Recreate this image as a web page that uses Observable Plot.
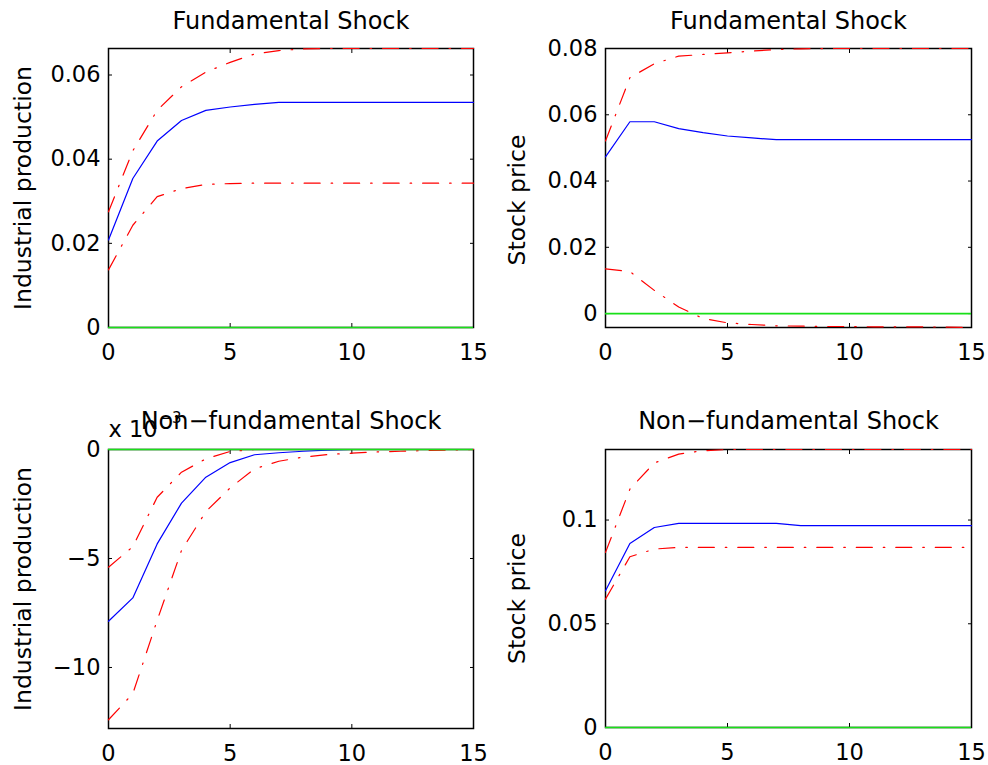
<!DOCTYPE html>
<html>
<head>
<meta charset="utf-8">
<script src="https://cdn.jsdelivr.net/npm/d3@7"></script>
<script src="https://cdn.jsdelivr.net/npm/@observablehq/plot@0.6"></script>
<style>
  html, body { margin: 0; padding: 0; background: #ffffff; }
  #figure { position: relative; width: 988px; height: 765px; background: #ffffff; overflow: hidden; }
  .panel { position: absolute; }
</style>
</head>
<body>
<div id="figure"></div>
<script>
// Impulse-response horizon (periods after the shock)
const steps = [0, 1, 2, 3, 4, 5, 6, 7, 8, 9, 10, 11, 12, 13, 14, 15];
const xTicks = [0, 5, 10, 15];

// Industrial production, fundamental shock: response and error bands
const ipFundResp  = [0.0208, 0.0354, 0.0443, 0.0492, 0.0516, 0.0524, 0.0530, 0.0535, 0.0535, 0.0535, 0.0535, 0.0535, 0.0535, 0.0535, 0.0535, 0.0535];
const ipFundUpper = [0.0275, 0.0420, 0.0516, 0.0572, 0.0607, 0.0630, 0.0650, 0.0658, 0.0662, 0.0663, 0.0663, 0.0663, 0.0663, 0.0663, 0.0663, 0.0663];
const ipFundLower = [0.0137, 0.0243, 0.0311, 0.0330, 0.0340, 0.0342, 0.0343, 0.0343, 0.0343, 0.0343, 0.0343, 0.0343, 0.0343, 0.0343, 0.0343, 0.0343];
const ipFundTicks = [0, 0.02, 0.04, 0.06];
const ipFundTickLabels = ["0", "0.02", "0.04", "0.06"];

// Stock price, fundamental shock
const spFundResp  = [0.0473, 0.0579, 0.0579, 0.0558, 0.0546, 0.0536, 0.0530, 0.0525, 0.0525, 0.0525, 0.0525, 0.0525, 0.0525, 0.0525, 0.0525, 0.0525];
const spFundUpper = [0.0521, 0.0712, 0.0754, 0.0777, 0.0782, 0.0787, 0.0792, 0.0797, 0.0799, 0.0800, 0.0800, 0.0800, 0.0800, 0.0800, 0.0800, 0.0800];
const spFundLower = [0.0135, 0.0127, 0.0070, 0.0020, -0.0015, -0.0028, -0.0033, -0.0037, -0.0038, -0.0039, -0.0039, -0.0040, -0.0040, -0.0040, -0.0041, -0.0042];
const spFundTicks = [0, 0.02, 0.04, 0.06, 0.08];
const spFundTickLabels = ["0", "0.02", "0.04", "0.06", "0.08"];

// Industrial production, non-fundamental shock
const ipNonResp  = [-0.00788, -0.00681, -0.00433, -0.00246, -0.00127, -0.00060, -0.00024, -0.00015, -0.00008, -0.00003, 0, 0, 0, 0, 0, 0];
const ipNonUpper = [-0.00540, -0.00446, -0.00219, -0.00104, -0.00043, -0.00009, 0, 0, 0, 0, 0, 0, 0, 0, 0, 0];
const ipNonLower = [-0.01240, -0.01120, -0.00784, -0.00463, -0.00285, -0.00176, -0.00089, -0.00054, -0.00035, -0.00023, -0.00017, -0.00011, -0.00008, -0.00005, -0.00002, 0];
const ipNonTicks = [-0.01, -0.005, 0];
const ipNonTickLabels = ["\u221210", "\u22125", "0"];

// Stock price, non-fundamental shock
const spNonResp  = [0.0659, 0.0887, 0.0964, 0.0984, 0.0984, 0.0984, 0.0984, 0.0984, 0.0973, 0.0973, 0.0973, 0.0973, 0.0973, 0.0973, 0.0973, 0.0973];
const spNonUpper = [0.0844, 0.1149, 0.1275, 0.1318, 0.1334, 0.1340, 0.1340, 0.1340, 0.1340, 0.1340, 0.1340, 0.1340, 0.1340, 0.1340, 0.1340, 0.1340];
const spNonLower = [0.0619, 0.0823, 0.0860, 0.0868, 0.0868, 0.0868, 0.0868, 0.0868, 0.0868, 0.0868, 0.0868, 0.0868, 0.0868, 0.0868, 0.0868, 0.0868];
const spNonTicks = [0, 0.05, 0.1];
const spNonTickLabels = ["0", "0.05", "0.1"];

const BLUE = "#0000ff";
const RED = "#ff0000";
const GREEN = "#18e018";
const DASHDOT = "16 11 1.5 11";
const FONT = "'DejaVu Sans', 'Liberation Sans', sans-serif";

function rows(values) {
  return steps.map((t, i) => ({t, v: values[i]}));
}

function panel(cfg) {
  const labelOf = (d) => cfg.tickLabels[cfg.ticks.indexOf(d)] ?? "";
  const marks = [
    Plot.frame({stroke: "#000000", strokeWidth: 1.5}),
    // inward tick marks on all four sides
    Plot.axisX({anchor: "bottom", ticks: xTicks, tickSize: 4, dy: -4, fill: "none", label: null, strokeWidth: 1}),
    Plot.axisX({anchor: "top", ticks: xTicks, tickSize: 4, dy: 4, fill: "none", label: null, strokeWidth: 1}),
    Plot.axisY({anchor: "left", ticks: cfg.ticks, tickSize: 4, dx: 4, fill: "none", label: null, strokeWidth: 1}),
    Plot.axisY({anchor: "right", ticks: cfg.ticks, tickSize: 4, dx: -4, fill: "none", label: null, strokeWidth: 1}),
    // tick labels
    Plot.axisX({anchor: "bottom", ticks: xTicks, tickSize: 0, tickPadding: 17, tickFormat: (d) => String(d), fontSize: 22.5, label: null}),
    Plot.axisY({anchor: "left", ticks: cfg.ticks, tickSize: 0, tickPadding: 8, tickFormat: labelOf, fontSize: 22.5, label: null}),
    // responses
    Plot.line(rows(cfg.resp), {x: "t", y: "v", stroke: BLUE, strokeWidth: 1.2}),
    Plot.line(rows(cfg.lower), {x: "t", y: "v", stroke: RED, strokeWidth: 1.2, strokeDasharray: DASHDOT}),
    Plot.line(rows(cfg.upper), {x: "t", y: "v", stroke: RED, strokeWidth: 1.2, strokeDasharray: DASHDOT}),
    Plot.ruleY([0], {stroke: GREEN, strokeWidth: 1.6}),
    // title and axis label
    Plot.text([cfg.title], {frameAnchor: "top", dy: cfg.titleDy, fontSize: 24, lineAnchor: "middle", textAnchor: "middle", fill: "#000000"}),
    Plot.text([cfg.ylabel], {frameAnchor: "left", rotate: -90, dx: cfg.labelDx, dy: cfg.labelDy, fontSize: 23.5, lineAnchor: "middle", textAnchor: "middle", fill: "#000000"})
  ];
  if (cfg.exponent) {
    marks.push(
      Plot.text(["x 10"], {frameAnchor: "top-left", textAnchor: "start", lineAnchor: "bottom", dy: -13, fontSize: 22.5, fill: "#000000"}),
      Plot.text([cfg.exponent], {frameAnchor: "top-left", textAnchor: "start", lineAnchor: "bottom", dx: 51, dy: -27, fontSize: 15, fill: "#000000"})
    );
  }
  const chart = Plot.plot({
    width: cfg.width,
    height: cfg.height,
    marginLeft: cfg.m[0],
    marginRight: cfg.m[1],
    marginTop: cfg.m[2],
    marginBottom: cfg.m[3],
    x: {domain: [0, 15]},
    y: {domain: cfg.domain},
    style: {fontFamily: FONT, fontSize: "22px", background: "transparent", color: "#000000", overflow: "visible"},
    marks
  });
  const holder = document.createElement("div");
  holder.className = "panel";
  holder.style.left = cfg.left + "px";
  holder.style.top = cfg.top + "px";
  holder.appendChild(chart);
  document.getElementById("figure").appendChild(holder);
}

panel({
  left: 0, top: 0, width: 494, height: 380, m: [108, 21, 48, 53],
  title: "Fundamental Shock", titleDy: -27, ylabel: "Industrial production", labelDx: -85, labelDy: 0,
  domain: [0, 0.0663], ticks: ipFundTicks, tickLabels: ipFundTickLabels,
  resp: ipFundResp, upper: ipFundUpper, lower: ipFundLower
});
panel({
  left: 494, top: 0, width: 494, height: 380, m: [111, 17, 48, 53],
  title: "Fundamental Shock", titleDy: -27, ylabel: "Stock price", labelDx: -88, labelDy: 12,
  domain: [-0.0042, 0.08], ticks: spFundTicks, tickLabels: spFundTickLabels,
  resp: spFundResp, upper: spFundUpper, lower: spFundLower
});
panel({
  left: 0, top: 380, width: 494, height: 385, m: [108, 21, 69, 37],
  title: "Non\u2212fundamental Shock", titleDy: -28, ylabel: "Industrial production", labelDx: -85, labelDy: 0,
  domain: [-0.0128, 0], ticks: ipNonTicks, tickLabels: ipNonTickLabels,
  resp: ipNonResp, upper: ipNonUpper, lower: ipNonLower, exponent: "\u22123"
});
panel({
  left: 494, top: 380, width: 494, height: 385, m: [111, 17, 69, 38],
  title: "Non\u2212fundamental Shock", titleDy: -28, ylabel: "Stock price", labelDx: -88, labelDy: 10,
  domain: [0, 0.134], ticks: spNonTicks, tickLabels: spNonTickLabels,
  resp: spNonResp, upper: spNonUpper, lower: spNonLower
});
</script>
</body>
</html>
